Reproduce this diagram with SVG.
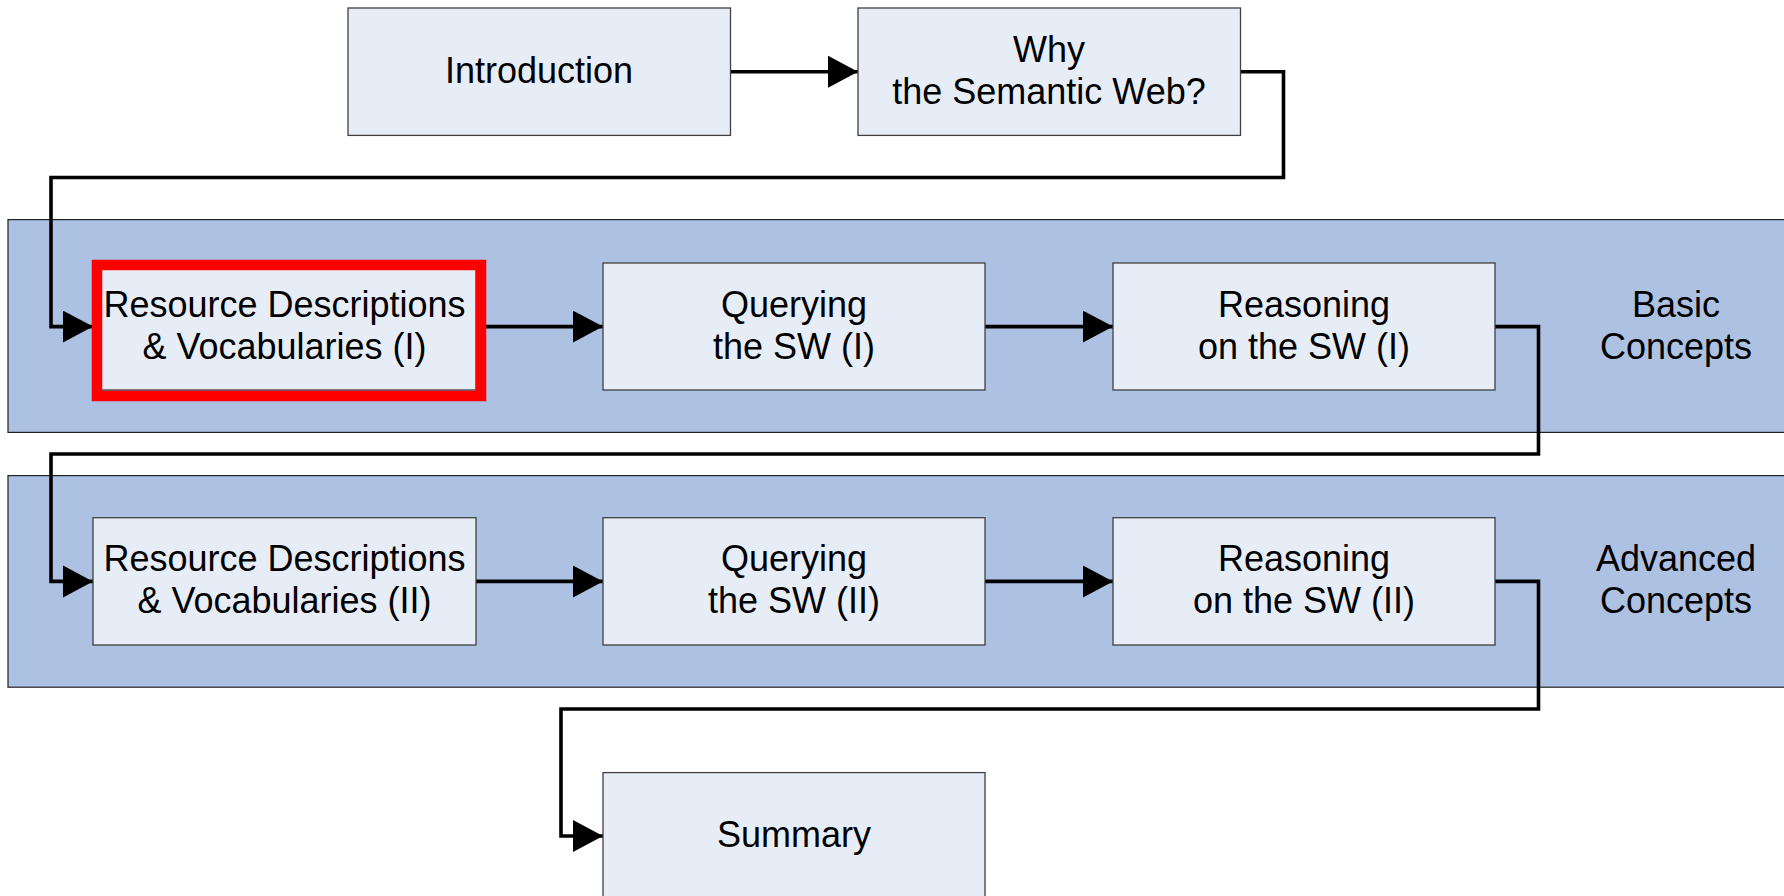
<svg xmlns="http://www.w3.org/2000/svg" width="1784" height="896" viewBox="0 0 1784 896">
  <style>
    .band { fill: #adc1e2; stroke: #222; stroke-width: 1.2; }
    .box { fill: #e7edf7; stroke: #404040; stroke-width: 1.3; }
    .lbl { font-family: "Liberation Sans", Arial, sans-serif; font-size: 36px; fill: #000; text-anchor: middle; }
    .wire { fill: none; stroke: #000; stroke-width: 3.6; stroke-linejoin: miter; }
    .focus { fill: none; stroke: #ff0000; stroke-width: 10.5; }
  </style>
  <defs>
    <marker id="arrow" markerUnits="userSpaceOnUse" markerWidth="31" markerHeight="34" refX="30" refY="16" orient="auto">
      <path d="M0,0 L30,16 L0,32 Z" fill="#000"/>
    </marker>
  </defs>

  <!-- course sections -->
  <g id="band-basic">
    <rect class="band" x="8" y="219.6" width="1800" height="212.8"/>
    <text class="lbl" x="1676" y="316.6">Basic</text>
    <text class="lbl" x="1676" y="358.6">Concepts</text>
  </g>
  <g id="band-advanced">
    <rect class="band" x="8" y="475.6" width="1800" height="211.6"/>
    <text class="lbl" x="1676" y="571.4">Advanced</text>
    <text class="lbl" x="1676" y="613.4">Concepts</text>
  </g>

  <!-- flow between lectures -->
  <g id="connectors">
    <path class="wire" marker-end="url(#arrow)" d="M731,71.7 H858"/>
    <path class="wire" marker-end="url(#arrow)" d="M1240,71.7 H1283.5 V177.5 H51 V326.6 H93"/>
    <path class="wire" marker-end="url(#arrow)" d="M476,326.6 H603"/>
    <path class="wire" marker-end="url(#arrow)" d="M985,326.6 H1113"/>
    <path class="wire" marker-end="url(#arrow)" d="M1495,326.6 H1538.5 V454 H51 V581.4 H93"/>
    <path class="wire" marker-end="url(#arrow)" d="M476,581.4 H603"/>
    <path class="wire" marker-end="url(#arrow)" d="M985,581.4 H1113"/>
    <path class="wire" marker-end="url(#arrow)" d="M1495,581.4 H1538.5 V709 H561 V836 H603"/>
  </g>

  <g id="introduction">
    <rect class="box" x="348" y="8" width="382.5" height="127.4"/>
    <text class="lbl" x="539" y="82.7">Introduction</text>
  </g>
  <g id="why-sw">
    <rect class="box" x="858" y="8" width="382.5" height="127.4"/>
    <text class="lbl" x="1049" y="61.7">Why</text>
    <text class="lbl" x="1049" y="103.7">the Semantic Web?</text>
  </g>

  <g id="rd-1">
    <rect class="box" x="93" y="263" width="383" height="127"/>
    <rect class="focus" x="97" y="265" width="384" height="131"/>
    <text class="lbl" x="284.5" y="316.6">Resource Descriptions</text>
    <text class="lbl" x="284.5" y="358.6">&amp; Vocabularies (I)</text>
  </g>
  <g id="query-1">
    <rect class="box" x="603" y="263" width="382" height="127"/>
    <text class="lbl" x="794" y="316.6">Querying</text>
    <text class="lbl" x="794" y="358.6">the SW (I)</text>
  </g>
  <g id="reason-1">
    <rect class="box" x="1113" y="263" width="382" height="127"/>
    <text class="lbl" x="1304" y="316.6">Reasoning</text>
    <text class="lbl" x="1304" y="358.6">on the SW (I)</text>
  </g>

  <g id="rd-2">
    <rect class="box" x="93" y="517.7" width="383" height="127.3"/>
    <text class="lbl" x="284.5" y="571.4">Resource Descriptions</text>
    <text class="lbl" x="284.5" y="613.4">&amp; Vocabularies (II)</text>
  </g>
  <g id="query-2">
    <rect class="box" x="603" y="517.7" width="382" height="127.3"/>
    <text class="lbl" x="794" y="571.4">Querying</text>
    <text class="lbl" x="794" y="613.4">the SW (II)</text>
  </g>
  <g id="reason-2">
    <rect class="box" x="1113" y="517.7" width="382" height="127.3"/>
    <text class="lbl" x="1304" y="571.4">Reasoning</text>
    <text class="lbl" x="1304" y="613.4">on the SW (II)</text>
  </g>

  <g id="summary">
    <rect class="box" x="603" y="772.6" width="382" height="127"/>
    <text class="lbl" x="794" y="847">Summary</text>
  </g>
</svg>
